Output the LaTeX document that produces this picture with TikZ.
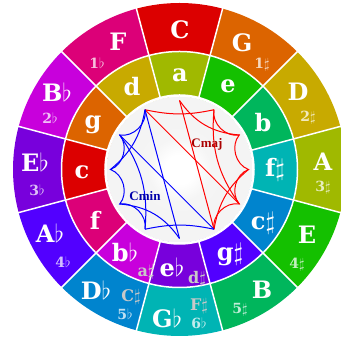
\documentclass[tikz,border=0pt]{standalone}
\usepackage{fontspec}
\setmainfont{DejaVu Serif}
\newfontfamily\chordfont{Liberation Serif}
\definecolor{cC}{RGB}{220,0,0}
\definecolor{cG}{RGB}{220,100,0}
\definecolor{cD}{RGB}{200,170,0}
\definecolor{cA}{RGB}{160,185,0}
\definecolor{cE}{RGB}{20,192,0}
\definecolor{cB}{RGB}{0,182,92}
\definecolor{cFs}{RGB}{0,180,180}
\definecolor{cDb}{RGB}{0,132,206}
\definecolor{cAb}{RGB}{82,0,255}
\definecolor{cEb}{RGB}{120,0,220}
\definecolor{cBb}{RGB}{200,0,220}
\definecolor{cF}{RGB}{220,0,120}
\definecolor{lgray}{RGB}{200,200,200}
\definecolor{majred}{RGB}{170,0,0}
\definecolor{minblue}{RGB}{0,0,170}
\pgfdeclareradialshading{diskshade}{\pgfpoint{0bp}{0bp}}{color(0bp)=(white); color(5bp)=(white); color(11bp)=(black!4); color(38bp)=(black!5); color(46bp)=(black!11); color(50bp)=(black!16)}
\newcommand\chordweb[2]{%
  \begin{scope}[rotate=#1, line width=1pt, #2]
    \draw (120:69pt) -- (-30:69pt);
    \draw (90:69pt) -- (-60:69pt);
    \draw (120:69pt) to[bend right=12] (60:69pt);
    \draw (90:69pt) to[bend right=25] (30:69pt);
    \draw (60:69pt) to[bend right=55] (30:69pt) to[bend right=55] (0:69pt)
          to[bend right=55] (-30:69pt) to[bend right=55] (-60:69pt);
    \draw (-30:69pt) to[bend left=20] (60:69pt);
    \draw (-60:69pt) to[bend left=20] (0:69pt);
  \end{scope}}
\begin{document}
\begin{tikzpicture}[x=1pt,y=1pt,
  maj/.style={text=white, font=\fontsize{24}{24}\selectfont\bfseries, inner sep=0pt},
  mnr/.style={text=white, font=\fontsize{24}{24}\selectfont\bfseries, inner sep=0pt},
  sig/.style={text=white, text opacity=0.75, font=\fontsize{14}{14}\selectfont\bfseries, inner sep=0pt},
  enh/.style={text=lgray, font=\fontsize{16}{16}\selectfont\bfseries, inner sep=0pt},
  sep/.style={draw=white, line width=1.5pt},
  chordlbl/.style={font=\fontsize{13}{13}\selectfont\chordfont\bfseries, inner sep=0pt}]
\useasboundingbox (0,0) rectangle (341,339);
\clip (0,0) rectangle (341,339);
\begin{scope}[shift={(179.5,169.5)}]
  \foreach \a/\co/\ci in {90/cC/cA, 60/cG/cE, 30/cD/cB, 0/cA/cFs, -30/cE/cDb, -60/cB/cAb,
                          -90/cFs/cEb, -120/cDb/cBb, -150/cAb/cF, 180/cEb/cC, 150/cBb/cG, 120/cF/cD} {
    \fill[\co] (\a+15:166.5pt) arc[start angle=\a+15, end angle=\a-15, radius=166.5pt]
         -- (\a-15:118pt) arc[start angle=\a-15, end angle=\a+15, radius=118pt] -- cycle;
    \fill[\ci] (\a+15:118pt) arc[start angle=\a+15, end angle=\a-15, radius=118pt]
         -- (\a-15:72pt) arc[start angle=\a-15, end angle=\a+15, radius=72pt] -- cycle;
  }
  \foreach \a in {15,45,...,345} { \draw[sep] (\a:72pt) -- (\a:167pt); }
  \draw[sep] (0,0) circle (118pt);
  \shade[shading=diskshade] (0,0) circle (73pt);
  \draw[white, line width=2.5pt] (0,0) circle (74pt);
  \chordweb{0}{red}
  \chordweb{180}{blue}
\end{scope}
% major keys
\node[maj] (kC) at (180,309) {C};
\node[maj] (kG) at (242,296) {G};
\node[sig] (sG) at (262,274) {1$\sharp$};
\node[maj] (kD) at (298,247) {D};
\node[sig] (sD) at (308,221) {2$\sharp$};
\node[maj] (kA) at (323,177) {A};
\node[sig] (sA) at (323,151) {3$\sharp$};
\node[maj] (kE) at (307,104) {E};
\node[sig] (sE) at (297,74) {4$\sharp$};
\node[maj] (kB) at (262,49) {B};
\node[sig] (sB) at (240,29) {5$\sharp$};
\node[maj] (kGb) at (167,21) {G$\flat$};
\node[enh] (kFs) at (199,33) {F$\sharp$};
\node[sig] (sGb) at (199,16) {6$\flat$};
\node[maj] (kDb) at (96,49) {D$\flat$};
\node[enh] (kCs) at (131,42) {C$\sharp$};
\node[sig] (sDb) at (125,25) {5$\flat$};
\node[maj] (kAb) at (50,106) {A$\flat$};
\node[sig] (sAb) at (63,77) {4$\flat$};
\node[maj] (kEb) at (35,177) {E$\flat$};
\node[sig] (sEb) at (37,149) {3$\flat$};
\node[maj] (kBb) at (57,247) {B$\flat$};
\node[sig] (sBb) at (50,221) {2$\flat$};
\node[maj] (kF) at (118,297) {F};
\node[sig] (sF) at (97,276) {1$\flat$};
% minor keys
\node[mnr] (ma) at (180,264) {a};
\node[mnr] (me) at (228,253) {e};
\node[mnr] (mb) at (263,216) {b};
\node[mnr] (mfs) at (275,169) {f$\sharp$};
\node[mnr] (mcs) at (263,116) {c$\sharp$};
\node[mnr] (mgs) at (230,84) {g$\sharp$};
\node[mnr] (meb) at (172,72) {e$\flat$};
\node[enh] (mds) at (197,60) {d$\sharp$};
\node[mnr] (mbb) at (125,87) {b$\flat$};
\node[enh] (mas) at (146,67) {a$\sharp$};
\node[mnr] (mf) at (95,119) {f};
\node[mnr] (mc) at (82,167) {c};
\node[mnr] (mg) at (93,214) {g};
\node[mnr] (md) at (132,252) {d};
% chord labels
\node[chordlbl, text=majred] (cmaj) at (207,195) {Cmaj};
\node[chordlbl, text=minblue] (cmin) at (145,143) {Cmin};
\end{tikzpicture}
\end{document}
